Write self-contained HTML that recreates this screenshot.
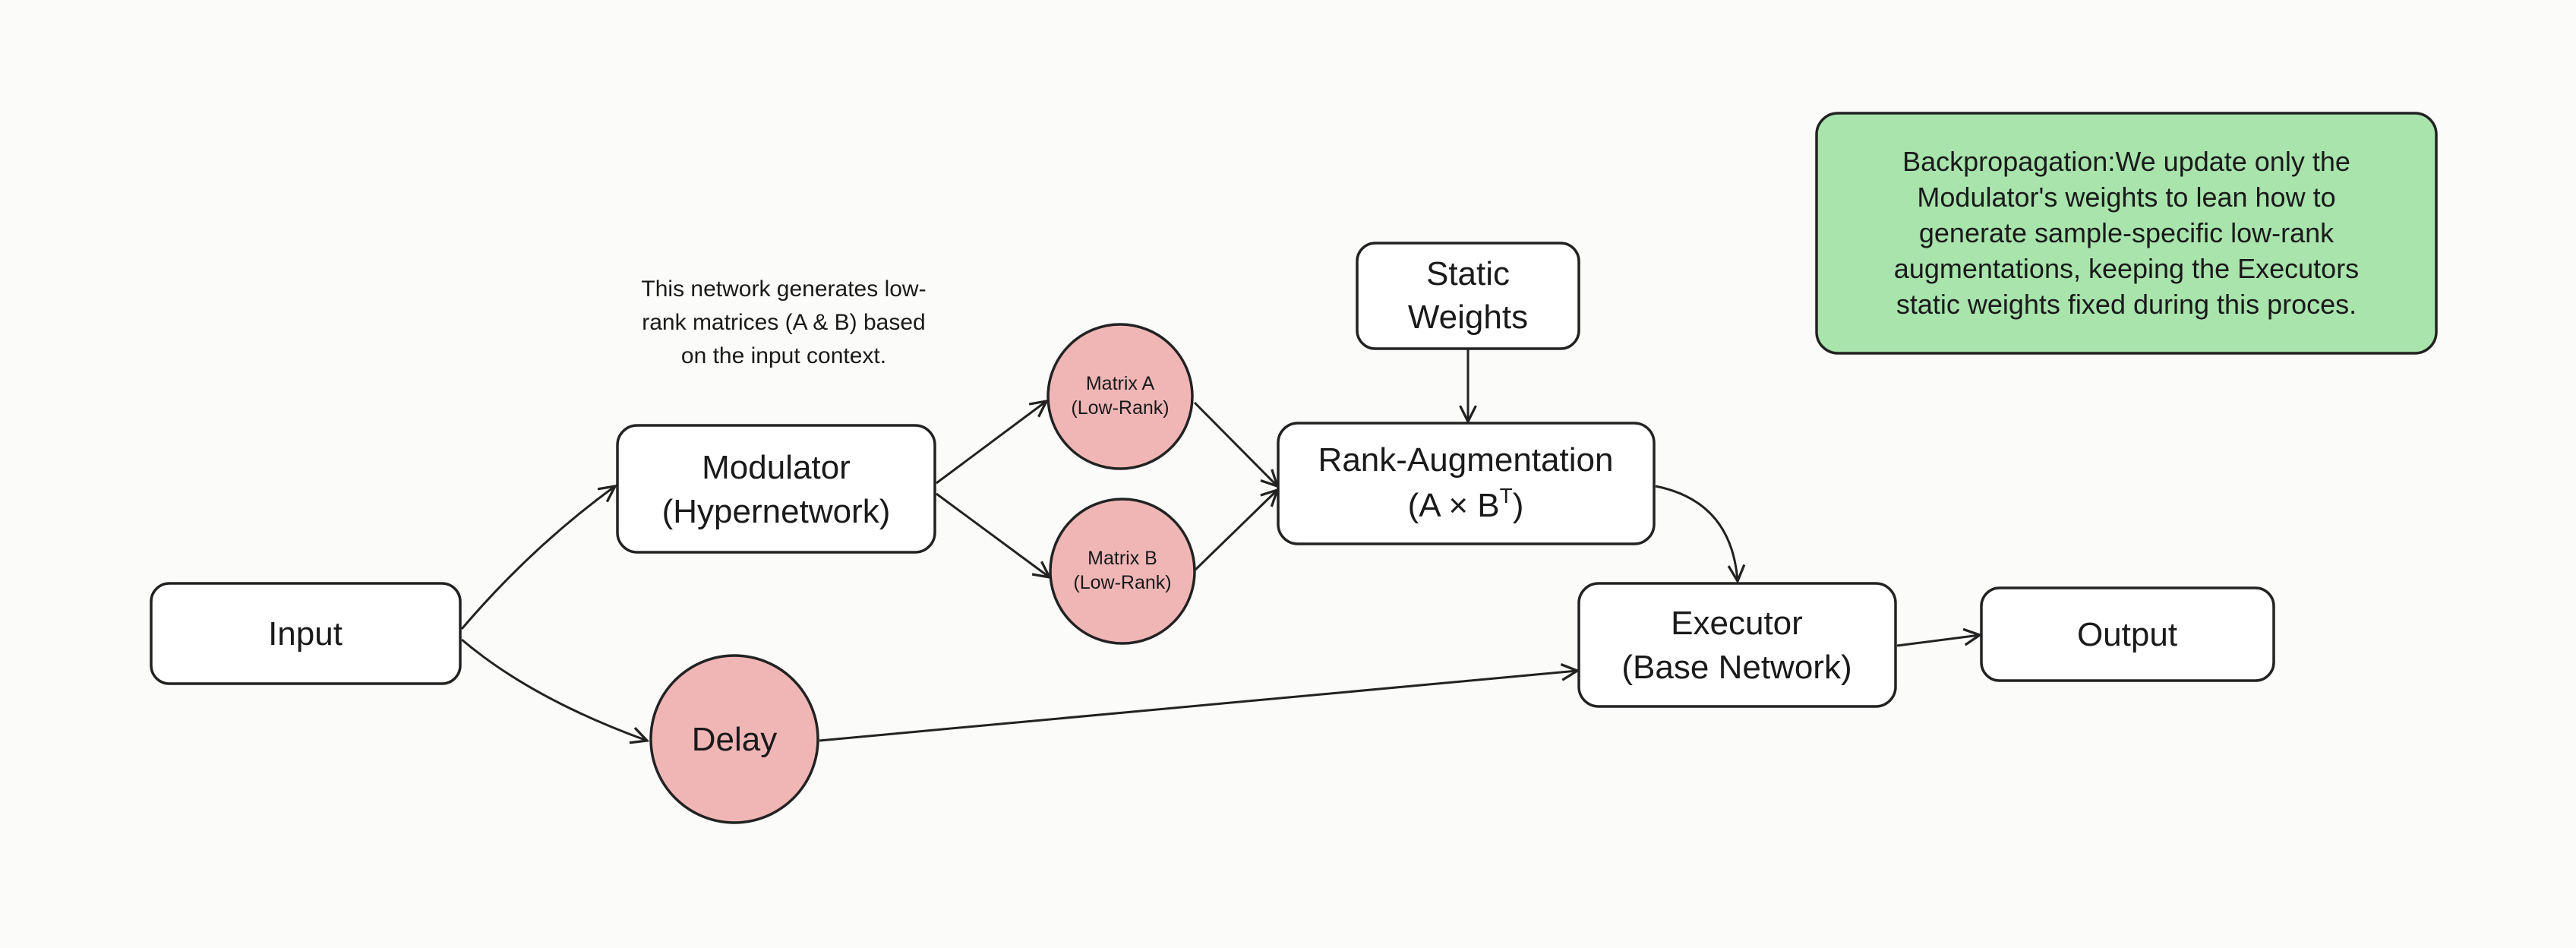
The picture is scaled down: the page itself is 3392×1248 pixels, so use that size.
<!DOCTYPE html>
<html><head><meta charset="utf-8"><style>
html,body{margin:0;padding:0;background:#fbfbf9;}
svg{display:block}
text{font-family:"Liberation Sans",sans-serif;fill:#1a1a1a;text-anchor:middle}
</style></head><body>
<svg width="3392" height="1248" viewBox="0 0 3392 1248" xmlns="http://www.w3.org/2000/svg">
<defs>
<marker id="ah" viewBox="0 0 20 20" refX="18" refY="10" markerWidth="26" markerHeight="26" markerUnits="userSpaceOnUse" orient="auto">
<path d="M2,2 L18,10 L2,18" fill="none" stroke="#222" stroke-width="2.5"/>
</marker>
</defs>
<rect width="3392" height="1248" fill="#fbfbf9"/>
<g stroke="#222" stroke-width="3.5" fill="#fff">
<rect x="199" y="768" width="407" height="132" rx="24"/>
<rect x="813" y="560" width="418" height="167" rx="26"/>
<rect x="1683" y="557" width="495" height="159" rx="26"/>
<rect x="1787" y="320" width="292" height="139" rx="24"/>
<rect x="2079" y="768" width="417" height="162" rx="26"/>
<rect x="2609" y="774" width="385" height="122" rx="24"/>
<rect x="2392" y="149" width="816" height="316" rx="28" fill="#a8e4ac"/>
<circle cx="1475" cy="522" r="95" fill="#f0b6b6"/>
<circle cx="1478" cy="752" r="95" fill="#f0b6b6"/>
<circle cx="967" cy="973" r="110" fill="#f0b6b6"/>
</g>
<g stroke="#222" stroke-width="3" fill="none" marker-end="url(#ah)">
<path d="M608,828 Q700,720 810,640"/>
<path d="M608,842 Q700,920 852,975"/>
<path d="M1233,636 L1378,528"/>
<path d="M1233,650 L1382,760"/>
<path d="M1573,530 L1682,640"/>
<path d="M1574,750 L1682,645"/>
<path d="M1933,460 L1933,555"/>
<path d="M2180,640 Q2280,660 2288,765"/>
<path d="M1079,975 L2077,883"/>
<path d="M2498,850 L2607,836"/>
</g>
<g font-size="44">
<text x="402" y="849">Input</text>
<text x="1022" y="630">Modulator</text>
<text x="1022" y="688">(Hypernetwork)</text>
<text x="1930" y="620">Rank-Augmentation</text>
<text x="1930" y="680">(A × B<tspan font-size="28" dy="-18">T</tspan><tspan dy="18">)</tspan></text>
<text x="1933" y="375">Static</text>
<text x="1933" y="432">Weights</text>
<text x="2287" y="835">Executor</text>
<text x="2287" y="893">(Base Network)</text>
<text x="2801" y="850">Output</text>
<text x="967" y="988">Delay</text>
</g>
<g font-size="25">
<text x="1475" y="513">Matrix A</text>
<text x="1475" y="545">(Low-Rank)</text>
<text x="1478" y="743">Matrix B</text>
<text x="1478" y="775">(Low-Rank)</text>
</g>
<g font-size="30">
<text x="1032" y="390">This network generates low-</text>
<text x="1032" y="434">rank matrices (A &amp; B) based</text>
<text x="1032" y="478">on the input context.</text>
</g>
<g font-size="36">
<text x="2800" y="225">Backpropagation:We update only the</text>
<text x="2800" y="272">Modulator's weights to lean how to</text>
<text x="2800" y="319">generate sample-specific low-rank</text>
<text x="2800" y="366">augmentations, keeping the Executors</text>
<text x="2800" y="413">static weights fixed during this proces.</text>
</g>
</svg>
</body></html>
